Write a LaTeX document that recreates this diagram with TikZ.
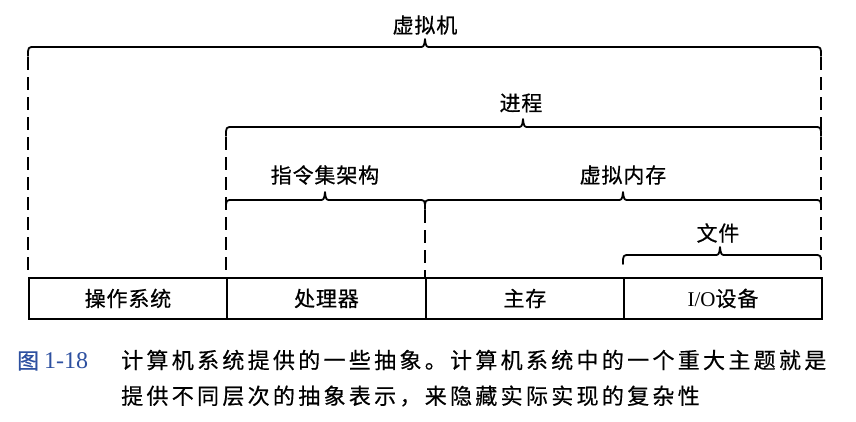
\documentclass[tikz,border=0pt]{standalone}
\usepackage{fontspec}
\setmainfont{Liberation Serif}
\newfontfamily\cjk{Noto Sans CJK SC}[LetterSpace=4,FakeBold=0.6]
\newfontfamily\cjkcap{Noto Sans CJK SC}[LetterSpace=15,FakeBold=0.5]
\definecolor{capblue}{RGB}{45,80,160}
\tikzset{
  bracestyle/.style={line width=1.8pt, line cap=round, line join=round},
  dashline/.style={line width=1.8pt, dash pattern=on 13pt off 7pt},
  lab/.style={font=\cjk\fontsize{21}{21}\selectfont, inner sep=0pt},
  cell/.style={draw, line width=1.9pt, minimum height=41pt, inner sep=0pt, anchor=north west, font=\cjk\fontsize{21}{21}\selectfont},
  captext/.style={anchor=west, inner sep=0pt, font=\cjkcap\fontsize{22}{22}\selectfont}
}
\newcommand\mybrc[4]{% x1 x2 xm y
  \draw[bracestyle] ({#1},{#4+9}) .. controls ({#1},{#4}) .. ({#1+7},{#4})
    -- ({#3-6},{#4}) .. controls ({#3-1},{#4}) .. ({#3},{#4-8})
    .. controls ({#3+1},{#4}) .. ({#3+6},{#4})
    -- ({#2-7},{#4}) .. controls ({#2},{#4}) .. ({#2},{#4+9});}
\begin{document}
\begin{tikzpicture}[x=1pt,y=-1pt]
\useasboundingbox (0,0) rectangle (856,421);
% braces
\mybrc{28}{821}{425}{47}
\mybrc{226}{821}{523}{127}
\mybrc{226}{425}{325}{200}
\mybrc{425}{821}{623}{200}
\mybrc{623}{821}{720}{255}
% dashed verticals
\draw[dashline] (28,57) -- (28,277);
\draw[dashline] (821,57) -- (821,277);
\draw[dashline] (226,137) -- (226,277);
\draw[dashline] (425,210) -- (425,277);
% labels
\node[lab] (vm) at (425,25) {虚拟机};
\node[lab] (proc) at (521,103) {进程};
\node[lab] (isa) at (325,175) {指令集架构};
\node[lab] (vmem) at (623,175) {虚拟内存};
\node[lab] (file) at (718,233) {文件};
% bottom row
\node[cell, minimum width=198pt] (os) at (28,277) {操作系统};
\node[cell, minimum width=199pt] (cpu) at (226,277) {处理器};
\node[cell, minimum width=198pt] (mem) at (425,277) {主存};
\node[cell, minimum width=198pt] (io) at (623,277) {\fontspec{Liberation Serif}\fontsize{21}{21}\selectfont I/O\cjk 设备};
% caption
\node[anchor=west, inner sep=0pt, text=capblue] (fig) at (17,361) {{\cjk\fontsize{22}{22}\selectfont 图}\hspace{5pt}{\fontsize{24}{24}\selectfont 1-18}};
\node[captext] (cap1) at (121,360) {计算机系统提供的一些抽象。计算机系统中的一个重大主题就是};
\node[captext] (cap2) at (121,396) {提供不同层次的抽象表示，来隐藏实际实现的复杂性};
\end{tikzpicture}
\end{document}
